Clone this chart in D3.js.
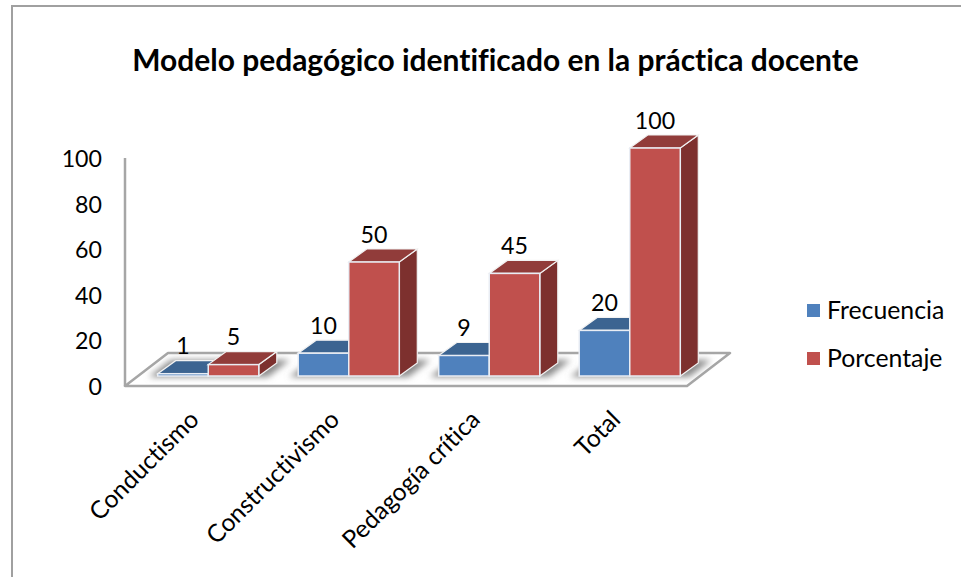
<!DOCTYPE html>
<html><head><meta charset="utf-8">
<script src="https://cdn.jsdelivr.net/npm/d3@7/dist/d3.min.js"></script>
<style>html,body{margin:0;background:#fff}svg{display:block}text{font-family:Lato,"Open Sans",sans-serif;fill:#000;font-variant-ligatures:none}</style>
</head><body><svg id="c" width="961" height="577"></svg>
<script>
const categories=["Conductismo","Constructivismo","Pedagogía crítica","Total"];
const seriesNames=["Frecuencia","Porcentaje"];
const frecuencia=[1,10,9,20];
const porcentaje=[5,50,45,100];
const yTicks=[0,20,40,60,80,100];
const titleText="Modelo pedagógico identificado en la práctica docente";
const frontColors=["#4f81bd","#c0504d"], topColors=["#3c6491","#913c3a"], sideColors=["#335680","#7d302e"];
const depthX=18, depthY=13, floorDX=43, floorDY=33, insetX=13, insetY=10;

const svg=d3.select("#c");
const defs=svg.append("defs");
defs.append("filter").attr("id","blur").attr("x","-20%").attr("y","-80%").attr("width","140%").attr("height","260%")
  .append("feGaussianBlur").attr("stdDeviation",3);

const x0=d3.scaleBand().domain(categories).range([125,687]);
const x1=d3.scaleBand().domain(seriesNames).range([0,x0.bandwidth()]).paddingInner(0).paddingOuter(0.39);
const y=d3.scaleLinear().domain([0,100]).range([386,158]);

// frame
svg.append("path").attr("d","M12,577V6H961").attr("fill","none").attr("stroke","#a0a0a0").attr("stroke-width",2);

// title
svg.append("text").attr("x",495.5).attr("y",71).attr("text-anchor","middle")
  .attr("font-size",29.95).attr("font-weight",700).text(titleText);

// floor and axis line
const [fx0,fx1]=x0.range(), fy=y(0);
svg.append("polygon").attr("points",[[fx0,fy],[fx1,fy],[fx1+floorDX,fy-floorDY],[fx0+floorDX,fy-floorDY]].join(" "))
  .attr("fill","#fff").attr("stroke","#a6a6a6").attr("stroke-width",2.5).attr("stroke-linejoin","round");
svg.append("line").attr("x1",fx0).attr("x2",fx0).attr("y1",y(100)).attr("y2",fy).attr("stroke","#a6a6a6").attr("stroke-width",2.5);

// axes
const gy=svg.append("g").attr("transform",`translate(${fx0},1)`)
  .call(d3.axisLeft(y).tickValues(yTicks).tickSize(0).tickPadding(23));
gy.select(".domain").remove();
gy.selectAll("text").attr("font-size",23.2);

const gx=svg.append("g").attr("transform",`translate(0,${fy})`)
  .call(d3.axisBottom(x0).tickSize(0));
gx.select(".domain").remove();
gx.selectAll("text").attr("font-size",24.6).attr("text-anchor","end").attr("dy",0)
  .attr("transform","translate(3,33) rotate(-45)");

// bars
const series=[frecuencia,porcentaje];
const baseY=fy-insetY;
const rows=categories.map((c,i)=>({c,i}));
const cat=svg.append("g").selectAll("g").data(rows).join("g");
cat.append("polygon").attr("filter","url(#blur)").attr("fill","#8c8c8c")
  .attr("points",d=>{
    const l=x0(d.c)+insetX+x1(seriesNames[0])-9, r=x0(d.c)+insetX+x1(seriesNames[1])+x1.bandwidth()+9;
    return [[l,baseY+1],[r,baseY+1],[r+depthX+4,baseY-depthY-3],[l+depthX+4,baseY-depthY-3]].join(" ");
  });
seriesNames.forEach((s,k)=>{
  const g=cat.append("g").datum(d=>{
    const v=series[k][d.i], l=x0(d.c)+insetX+x1(s), w=x1.bandwidth(), t=y(v)-insetY;
    return {v,l,w,t,r:l+w};
  });
  g.append("polygon").attr("fill",sideColors[k]).attr("stroke","#f2f2f2").attr("stroke-width",1.2)
    .attr("points",d=>[[d.r,d.t],[d.r+depthX,d.t-depthY],[d.r+depthX,baseY-depthY],[d.r,baseY]].join(" "));
  g.append("polygon").attr("fill",topColors[k]).attr("stroke","#f2f2f2").attr("stroke-width",1.2)
    .attr("points",d=>[[d.l,d.t],[d.r,d.t],[d.r+depthX,d.t-depthY],[d.l+depthX,d.t-depthY]].join(" "));
  g.append("rect").attr("fill",frontColors[k]).attr("stroke","#e9edf4").attr("stroke-width",1.5)
    .attr("x",d=>d.l).attr("y",d=>d.t).attr("width",d=>d.w).attr("height",d=>baseY-d.t);
});
// labels on top of everything
seriesNames.forEach((s,k)=>{
  svg.append("g").selectAll("text").data(rows).join("text")
    .attr("x",d=>x0(d.c)+insetX+x1(s)+x1.bandwidth()/2)
    .attr("y",d=>y(series[k][d.i])-insetY-depthY-6.5)
    .attr("text-anchor","middle").attr("font-size",23.2).text(d=>series[k][d.i]);
});

// legend
const leg=svg.append("g").selectAll("g").data(seriesNames).join("g")
  .attr("transform",(d,i)=>`translate(807,${311+i*48})`);
leg.append("rect").attr("x",0).attr("y",-7).attr("width",13).attr("height",13).attr("fill",(d,i)=>frontColors[i]);
leg.append("text").attr("x",20).attr("y",8).attr("font-size",24.8).text(d=>d);
</script></body></html>
